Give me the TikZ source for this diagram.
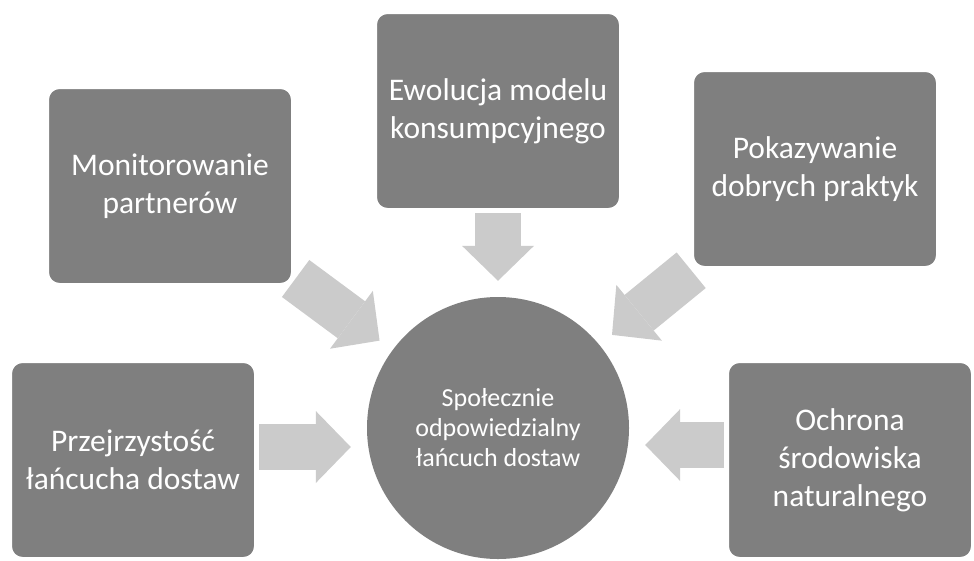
\documentclass[tikz,border=0pt]{standalone}
\usepackage{fontspec}
\setmainfont{Carlito}
\usetikzlibrary{arrows.meta,backgrounds}
\definecolor{boxgray}{RGB}{127,127,127}
\definecolor{flowgray}{RGB}{203,203,203}
\begin{document}
\begin{tikzpicture}[x=1pt,y=-1pt,
  box/.style={draw=white,line width=3pt,fill=boxgray,rounded corners=12pt,minimum width=245pt,minimum height=197pt,align=center,text=white,font=\fontsize{31.5}{38}\selectfont},
  core/.style={circle,fill=boxgray,minimum size=262pt,inner sep=0pt,align=center,text=white,font=\fontsize{26}{30}\selectfont},
  flow/.style={draw=flowgray,line width=46pt,-{Triangle[length=35pt,width=72pt,line width=0pt]},shorten <=2pt,shorten >=16pt}]
\useasboundingbox (0,0) rectangle (974,560);
\node[core] (chain) at (498,428) {Społecznie\\odpowiedzialny\\łańcuch dostaw};
\node[box] (monitor) at (170,186) {Monitorowanie\\partnerów};
\node[box] (model) at (498,111) {Ewolucja modelu\\konsumpcyjnego};
\node[box] (practice) at (815,169) {Pokazywanie\\dobrych praktyk};
\node[box] (clear) at (133,460) {Przejrzystość\\łańcucha dostaw};
\node[box] (nature) at (850,460) {Ochrona\\środowiska\\naturalnego};
\begin{scope}[on background layer]
\draw[flow] (monitor) -- (chain);
\draw[flow] (model) -- (chain);
\draw[flow] (practice) -- (chain);
\draw[flow] ([yshift=13pt]clear.east) -- ([yshift=13pt]clear.east -| chain.west);
\draw[flow] ([yshift=15pt]nature.west) -- ([yshift=15pt]nature.west -| chain.east);
\end{scope}
\end{tikzpicture}
\end{document}
